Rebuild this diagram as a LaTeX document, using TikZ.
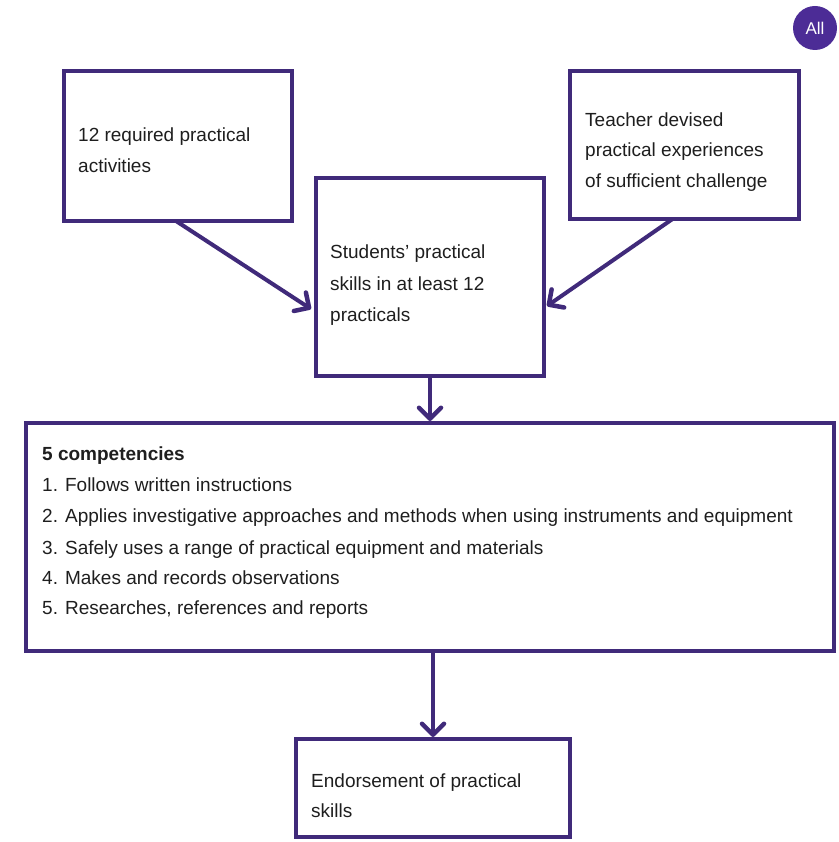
\documentclass[tikz,border=0pt]{standalone}
\usepackage{fontspec}
\setmainfont{Liberation Sans}
\usetikzlibrary{arrows.meta}
\definecolor{frame}{RGB}{64,42,122}
\definecolor{badge}{RGB}{76,44,150}
\definecolor{ink}{RGB}{30,30,30}
\begin{document}
\begin{tikzpicture}[x=1pt,y=-1pt,
  box/.style={draw=frame, line width=4pt, rectangle, inner sep=0pt, outer sep=0pt, anchor=north west},
  txt/.style={anchor=base west, inner sep=0pt, text=ink, font=\fontsize{19}{23}\selectfont},
  arr/.style={draw=frame, line width=4pt, -{Straight Barb[length=11pt,width=22pt,line width=4.5pt,round]}}]
\useasboundingbox (0,0) rectangle (838,842);

% boxes
\node[box, minimum width=228pt, minimum height=150pt] (a) at (64,71) {};
\node[box, minimum width=229pt, minimum height=148pt] (c) at (570,71) {};
\node[box, minimum width=228pt, minimum height=198pt] (b) at (316,178) {};
\node[box, minimum width=808pt, minimum height=228pt] (d) at (26,423) {};
\node[box, minimum width=274pt, minimum height=98pt] (e) at (296,739) {};

% badge
\node[circle, fill=badge, minimum size=44pt, inner sep=0pt, text=white,
      font=\fontsize{17}{20}\selectfont] (all) at (815,28) {All};

% texts
\node[txt] (a1) at (78,142) {12 required practical};
\node[txt] (a2) at (78,173) {activities};

\node[txt] (b1) at (330,258) {Students’ practical};
\node[txt] (b2) at (330,290) {skills in at least 12};
\node[txt] (b3) at (330,321) {practicals};

\node[txt] (c1) at (585,127) {Teacher devised};
\node[txt] (c2) at (585,157) {practical experiences};
\node[txt] (c3) at (585,188) {of sufficient challenge};

\node[txt, font=\fontsize{19}{23}\selectfont\bfseries] (d0) at (42,460) {5 competencies};
\node[txt] (d1) at (42,491) {1. Follows written instructions};
\node[txt] (d2) at (42,522) {2. Applies investigative approaches and methods when using instruments and equipment};
\node[txt] (d3) at (42,554) {3. Safely uses a range of practical equipment and materials};
\node[txt] (d4) at (42,584) {4. Makes and records observations};
\node[txt] (d5) at (42,614) {5. Researches, references and reports};

\node[txt] (e1) at (311,787) {Endorsement of practical};
\node[txt] (e2) at (311,817) {skills};

% connectors
\draw[arr] ([xshift=-2pt]a.south) -- ([yshift=-32pt,xshift=-5pt]b.west);
\draw[arr] ([xshift=-12pt]c.south) -- ([yshift=-29pt,xshift=3pt]b.east);
\draw[arr] (b.south) -- ([yshift=2pt]b.south |- d.north);
\draw[arr] (e.north |- d.south) -- ([yshift=2pt]e.north);
\end{tikzpicture}
\end{document}
